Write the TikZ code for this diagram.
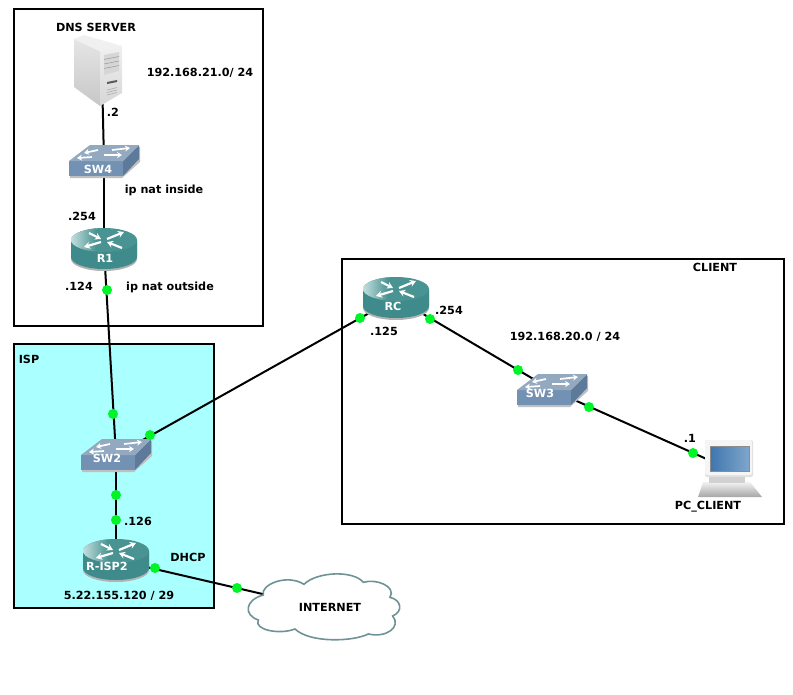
\documentclass[tikz,border=0pt]{standalone}
\usepackage{fontspec}
\setmainfont{DejaVu Sans}
\usetikzlibrary{arrows.meta}
\definecolor{teal1}{HTML}{3F8A8A}
\definecolor{teal2}{HTML}{4A9393}
\definecolor{tealhi}{HTML}{C4DEDE}
\definecolor{swtop}{HTML}{93A9C0}
\definecolor{swfront}{HTML}{7391B2}
\definecolor{swside}{HTML}{5E7A9B}
\definecolor{ispfill}{HTML}{AAFFFF}
\definecolor{dotgreen}{HTML}{00F526}
\definecolor{cloudline}{HTML}{6F9296}
\definecolor{screena}{HTML}{3F76AE}
\definecolor{screenb}{HTML}{7FA6CC}
\tikzset{
  zone/.style={draw=black,line width=2pt},
  link/.style={draw=black,line width=2pt},
  port/.style={circle,fill=dotgreen,inner sep=0pt,minimum size=10pt},
  lbl/.style={font=\bfseries\fontsize{11.2}{12}\selectfont,inner sep=0pt,text height=8pt,text depth=1pt,yshift=-1pt},
  devlbl/.style={lbl,text=white},
  xarrow/.style={draw=white,line width=2.2pt,-{Stealth[length=6pt,width=7pt]}},
  swarrow/.style={draw=white,line width=1.7pt,-{Stealth[length=5pt,width=6pt]}},
  router/.pic={
    \fill[black!30] (-33,-8) -- (-33,10) arc[start angle=180,end angle=0,x radius=33,y radius=12] -- (33,-8) -- cycle;
    \fill[teal1] (-33,-9) -- (-33,8) arc[start angle=180,end angle=0,x radius=33,y radius=12] -- (33,-9) -- cycle;
    \fill[teal2] (0,-9) ellipse[x radius=33,y radius=12];
    \begin{scope}
      \clip (0,-9) ellipse[x radius=33,y radius=12];
      \shade[left color=tealhi,right color=teal2] (-33,-21) rectangle (-8,3);
    \end{scope}
    \draw[xarrow] (-15,-16) -- (-3,-10);
    \draw[xarrow] (3,-10) -- (20,-17);
    \draw[xarrow] (-3,-7) -- (-20,-2);
    \draw[xarrow] (18,-1) -- (3,-7);
  },
  switchbox/.pic={
    \fill[black!25] (-34,2) -- (-34,17) -- (18,17) -- (36,1) -- (36,-14) -- cycle;
    \fill[swfront] (-35,0) -- (19,0) -- (19,15) -- (-35,15) -- cycle;
    \fill[swside] (19,0) -- (35,-16) -- (35,-2) -- (19,15) -- cycle;
    \fill[swtop] (-35,0) -- (-14,-16) -- (35,-16) -- (19,0) -- cycle;
    \draw[swarrow] (-6,-11) -- (-20,-8);
    \draw[swarrow] (8,-11) -- (26,-13);
    \draw[swarrow] (-12,-4) -- (-27,-3);
    \draw[swarrow] (0,-6) -- (18,-6);
  },
  serverbox/.pic={
    \shade[top color=black!10,bottom color=black!22] (-28,-37) -- (-2,-25) -- (-2,30) -- (-28,11) -- cycle;
    \fill[black!6] (-28,-37) -- (-18,-41) -- (20,-30) -- (-2,-25) -- cycle;
    \shade[top color=black!6,bottom color=black!16] (-2,-25) -- (20,-30) -- (20,17) -- (-2,30) -- cycle;
    \fill[black!16] (2,-21) -- (17,-24) -- (17,-5) -- (2,-1) -- cycle;
    \foreach \t in {-16.5,-12,-7.5}
      \draw[black!40,line width=.5pt] (2,\t) -- (17,\t-3);
    \fill[black!65] (5,6) -- (15,4) -- (15,6) -- (5,8) -- cycle;
    \foreach \t in {13,15.5,18}
      \draw[black!32,line width=.6pt] (5,\t+1) -- (15,\t-1.5);
  },
  pcbox/.pic={
    \shade[top color=black!5,bottom color=black!35] (-26,13) -- (21,13) -- (33,28) -- (-31,28) -- cycle;
    \fill[black!18] (-20,8) rectangle (16,14);
    \fill[black!12,rounded corners=2pt] (-24,-29) rectangle (24,8);
    \fill[black!4,rounded corners=2pt] (-24,-29) rectangle (23,6);
    \shade[left color=screena,right color=screenb,draw=black!45,line width=.4pt] (-19,-23) rectangle (20,2);
  }
}
\begin{document}
\begin{tikzpicture}[x=1pt,y=-1pt]
\useasboundingbox (0,0) rectangle (793,694);
% zones
\draw[zone] (14,9) rectangle (263,326);
\draw[zone,fill=ispfill] (14,344) rectangle (214,608);
\draw[zone] (342,259) rectangle (784,524);
% device centres
\coordinate (SRV) at (102,76);
\coordinate (SW4) at (104,161);
\coordinate (R1) at (104,249);
\coordinate (SW2) at (116,455);
\coordinate (RISP) at (116,560);
\coordinate (RC) at (396,298);
\coordinate (SW3) at (552,390);
\coordinate (PC) at (729,469);
\coordinate (CLOUD) at (323,608);
% connectors
\draw[link] (SRV) -- (SW4);
\draw[link] (SW4) -- (R1);
\draw[link] (R1) -- (SW2);
\draw[link] (SW2) -- (RISP);
\draw[link] (SW2) -- (RC);
\draw[link] (RC) -- (SW3);
\draw[link] (SW3) -- (PC);
\draw[link] (RISP) -- (CLOUD);
% devices
\pic at (SRV) {serverbox};
\pic at (SW4) {switchbox};
\pic at (R1) {router};
\pic at (SW2) {switchbox};
\pic at (RISP) {router};
\pic at (RC) {router};
\pic at (SW3) {switchbox};
\pic at (PC) {pcbox};
% cloud (outline given in 3x zoom coordinates)
\begin{scope}[x=0.3333pt,y=-0.3333pt,shift={(0pt,-340pt)}]
\draw[draw=cloudline,fill=white,line width=1.6pt]
  (790,765) .. controls (780,735) and (860,700) .. (912,733)
  .. controls (950,695) and (1060,690) .. (1090,727)
  .. controls (1130,715) and (1190,740) .. (1170,772)
  .. controls (1205,780) and (1210,815) .. (1178,828)
  .. controls (1205,860) and (1160,895) .. (1105,882)
  .. controls (1060,905) and (930,910) .. (885,867)
  .. controls (840,885) and (760,870) .. (775,840)
  .. controls (730,825) and (735,780) .. (790,765) -- cycle;
\end{scope}
% ports
\node[port] (p1) at (107,290) {};
\node[port] (p2) at (113,414) {};
\node[port] (p3) at (150,435) {};
\node[port] (p4) at (116,495) {};
\node[port] (p5) at (116,520) {};
\node[port] (p6) at (155,568) {};
\node[port] (p7) at (237,588) {};
\node[port] (p8) at (360,318) {};
\node[port] (p9) at (430,319) {};
\node[port] (p10) at (518,370) {};
\node[port] (p11) at (589,407) {};
\node[port] (p12) at (693,453) {};
% device labels
\node[devlbl] (lsw4) at (98,169) {SW4};
\node[devlbl] (lr1) at (105,258) {R1};
\node[devlbl] (lsw2) at (107,458) {SW2};
\node[devlbl] (lrisp) at (107,566) {R-ISP2};
\node[devlbl] (lrc) at (393,306) {RC};
\node[devlbl] (lsw3) at (540,393) {SW3};
% text labels
\node[lbl] (t1) at (96,27) {DNS SERVER};
\node[lbl] (t2) at (200,72) {192.168.21.0/ 24};
\node[lbl] (t3) at (113,112) {.2};
\node[lbl] (t4) at (164,189) {ip nat inside};
\node[lbl] (t5) at (82,216) {.254};
\node[lbl] (t6) at (79,286) {.124};
\node[lbl] (t7) at (170,286) {ip nat outside};
\node[lbl] (t8) at (29,359) {ISP};
\node[lbl] (t9) at (138,521) {.126};
\node[lbl] (t10) at (188,557) {DHCP};
\node[lbl] (t11) at (119,595) {5.22.155.120 / 29};
\node[lbl] (t12) at (330,607) {INTERNET};
\node[lbl] (t13) at (715,267) {CLIENT};
\node[lbl] (t14) at (384,331) {.125};
\node[lbl] (t15) at (449,310) {.254};
\node[lbl] (t16) at (565,336) {192.168.20.0 / 24};
\node[lbl] (t17) at (690,438) {.1};
\node[lbl] (t18) at (708,505) {PC\_CLIENT};
\end{tikzpicture}
\end{document}
